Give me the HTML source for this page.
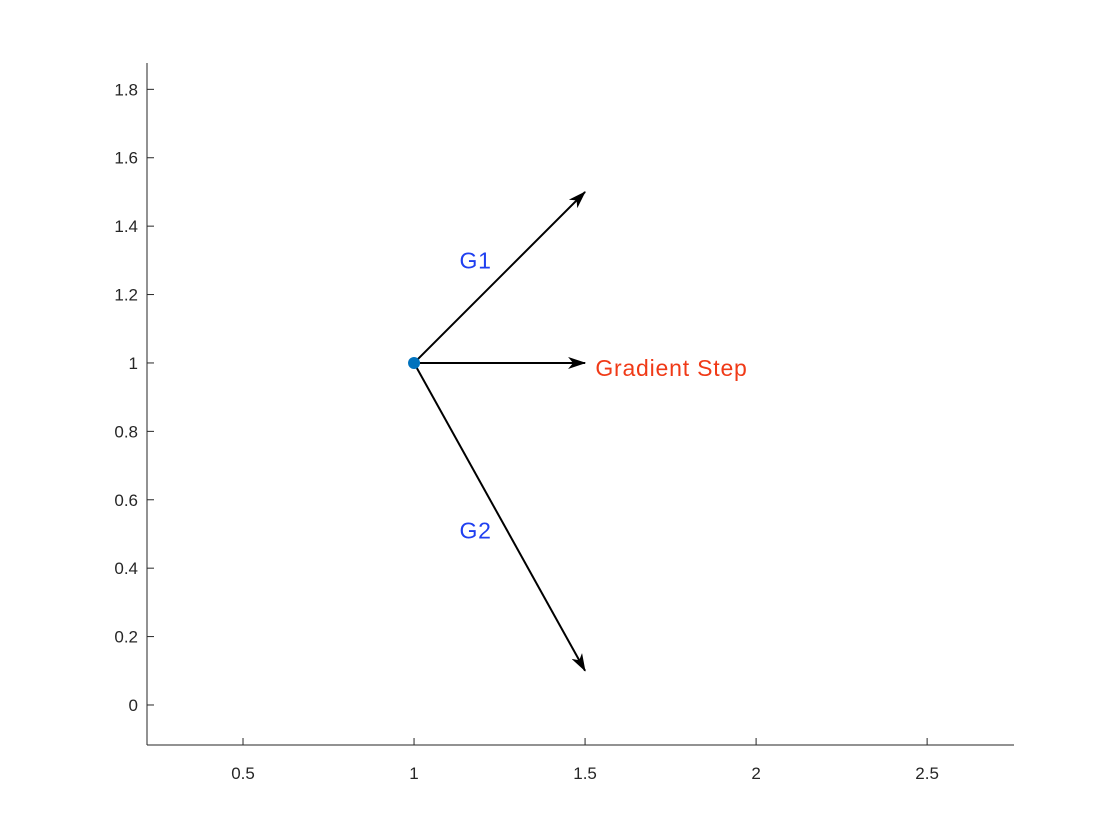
<!DOCTYPE html>
<html><head><meta charset="utf-8"><style>
html,body{margin:0;padding:0;background:#fff;}
svg{display:block;font-family:"Liberation Sans",sans-serif;}
</style></head><body>
<svg id="chart" width="1120" height="840">
<defs><marker id="ah" viewBox="0 0 18 12" refX="17" refY="6" markerWidth="18" markerHeight="12" markerUnits="userSpaceOnUse" orient="auto"><path d="M0,0 L18,6 L0,12 L5,6 Z" fill="#000"/></marker></defs>
<g id="axes"></g><g id="marks"></g>
</svg>
<script>
const xTicks=[0.5,1,1.5,2,2.5];
const yTicks=[0,0.2,0.4,0.6,0.8,1,1.2,1.4,1.6,1.8];
const origin=[1,1];
const arrowEnds=[[1.5,1.5],[1.5,1],[1.5,0.1]];
const labels=["G1","Gradient Step","G2"];
const labelPos=[[1.18,1.3],[1.53,0.985],[1.18,0.51]];
const labelColors=["#1f3ff0","#f03a17","#1f3ff0"];
const X0=147,X1=1014,Y0=745,Y1=63;
const xmin=0.2193,xmax=2.754,ymin=-0.117,ymax=1.877;
const sx=v=>X0+(v-xmin)/(xmax-xmin)*(X1-X0);
const sy=v=>Y0-(v-ymin)/(ymax-ymin)*(Y0-Y1);
const NS="http://www.w3.org/2000/svg";
function mk(t,a,p){const e=document.createElementNS(NS,t);for(const k in a)e.setAttribute(k,a[k]);p.appendChild(e);return e;}
const ax=document.getElementById('axes'),mg=document.getElementById('marks');
let l=mk('line',{x1:X0,y1:Y0,x2:X1,y2:Y0,stroke:'#262626','stroke-width':1},ax);


l=mk('line',{x1:X0,y1:Y0,x2:X0,y2:Y1,stroke:'#262626','stroke-width':1},ax);


xTicks.forEach(v=>{const x=sx(v);
mk('line',{x1:x,y1:Y0,x2:x,y2:Y0-7,stroke:'#262626'},ax);
const t=mk('text',{x:x,y:Y0+34,'text-anchor':'middle','font-size':17,fill:'#262626'},ax);t.textContent=v;

});
yTicks.forEach(v=>{const y=sy(v);
mk('line',{x1:X0,y1:y,x2:X0+7,y2:y,stroke:'#262626'},ax);
const t=mk('text',{x:X0-9,y:y+6,'text-anchor':'end','font-size':17,fill:'#262626'},ax);t.textContent=v;

});
arrowEnds.forEach((p,i)=>{const a=mk('line',{x1:sx(origin[0]),y1:sy(origin[1]),x2:sx(p[0]),y2:sy(p[1]),stroke:'#000','stroke-width':2,'marker-end':'url(#ah)'},mg);

});
const c=mk('circle',{cx:sx(origin[0]),cy:sy(origin[1]),r:6,fill:'#0072bd'},mg);


labels.forEach((s,i)=>{const t=mk('text',{x:sx(labelPos[i][0]),y:sy(labelPos[i][1])+8,'text-anchor':i==1?'start':'middle','font-size':23,'letter-spacing':0.8,fill:labelColors[i]},mg);t.textContent=s;

});
</script>
</body></html>
